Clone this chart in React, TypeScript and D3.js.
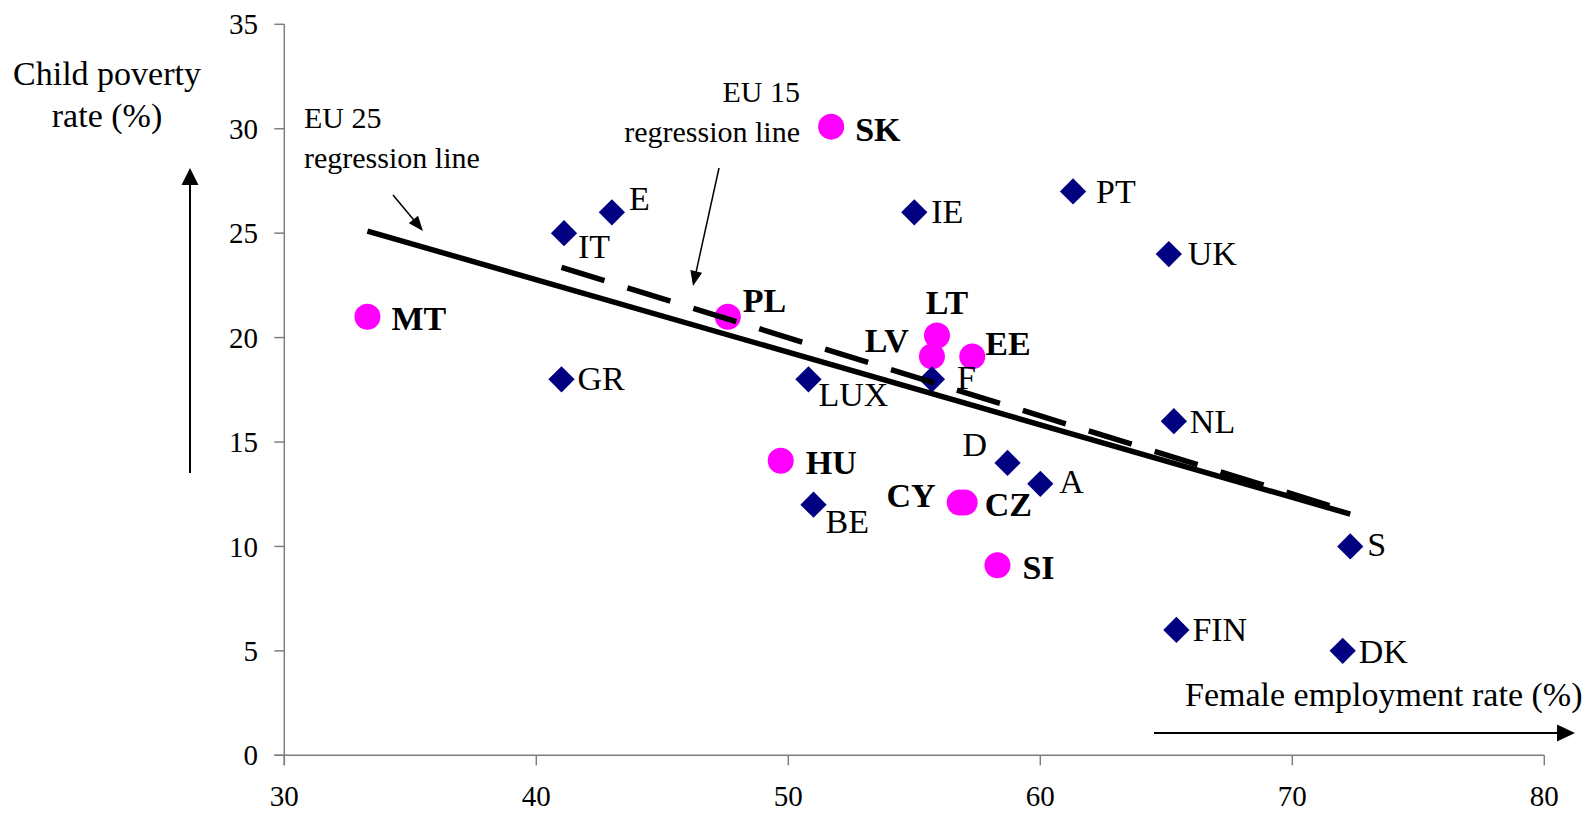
import React from "react";
import * as d3 from "d3";

// ---------- data ----------
const eu15Countries = ["E", "IT", "GR", "IE", "PT", "UK", "LUX", "F", "BE", "D", "A", "NL", "S", "FIN", "DK"];
const eu15Employment = [43.0, 41.1, 41.0, 55.0, 61.3, 65.1, 50.8, 55.7, 51.0, 58.7, 60.0, 65.3, 72.3, 65.4, 72.0];
const eu15ChildPoverty = [26, 25, 18, 26, 27, 24, 18, 18, 12, 14, 13, 16, 10, 6, 5];

const nmsCountries = ["MT", "PL", "SK", "LT", "LV", "EE", "HU", "CY", "CZ", "SI"];
const nmsEmployment = [33.3, 47.6, 51.7, 55.9, 55.7, 57.3, 49.7, 56.8, 57.0, 58.3];
const nmsChildPoverty = [21, 21, 30.1, 20.1, 19.1, 19.1, 14.1, 12.1, 12.1, 9.1];

const xTicks = [30, 40, 50, 60, 70, 80];
const yTicks = [0, 5, 10, 15, 20, 25, 30, 35];

// regression line end points (employment, poverty)
const eu25LineX = [33.3, 72.3];
const eu25LineY = [25.1, 11.55];
const eu15LineX = [41.0, 72.3];
const eu15LineY = [23.36, 11.65];

// ---------- layout (label offsets in px) ----------
const labelLayout: Record<string, [number, number, string]> = {
  E: [17, -2, "start"],
  IT: [14, 25, "start"],
  GR: [16, 11, "start"],
  IE: [17, 11, "start"],
  PT: [23, 12, "start"],
  UK: [19, 11, "start"],
  LUX: [10, 27, "start"],
  F: [25, 10, "start"],
  BE: [12, 28, "start"],
  D: [-45, -7, "start"],
  A: [19, 9, "start"],
  NL: [16, 12, "start"],
  S: [17, 10, "start"],
  FIN: [16, 11, "start"],
  DK: [16, 12, "start"],
  MT: [24, 13, "start"],
  PL: [15, -5, "start"],
  SK: [24, 14, "start"],
  LT: [10, -21, "middle"],
  LV: [-23, -4, "end"],
  EE: [13, -1, "start"],
  HU: [25, 13, "start"],
  CY: [-24, 4, "end"],
  CZ: [20, 13, "start"],
  SI: [25, 14, "start"],
};

const W = 1589;
const H = 814;
const FONT = "'Liberation Serif', 'Times New Roman', serif";

function arrowHead(x1: number, y1: number, x2: number, y2: number, len: number, wid: number) {
  const a = Math.atan2(y2 - y1, x2 - x1);
  const bx = x2 - len * Math.cos(a);
  const by = y2 - len * Math.sin(a);
  const px = -Math.sin(a) * (wid / 2);
  const py = Math.cos(a) * (wid / 2);
  return `${x2},${y2} ${bx + px},${by + py} ${bx - px},${by - py}`;
}

function Arrow({ x1, y1, x2, y2, len, wid, sw }: any) {
  const a = Math.atan2(y2 - y1, x2 - x1);
  const ex = x2 - (len - 2) * Math.cos(a);
  const ey = y2 - (len - 2) * Math.sin(a);
  return (
    <g>
      <line x1={x1} y1={y1} x2={ex} y2={ey} stroke="#000" strokeWidth={sw} />
      <polygon points={arrowHead(x1, y1, x2, y2, len, wid)} fill="#000" />
    </g>
  );
}

export default function App() {
  const x = d3.scaleLinear().domain([30, 80]).range([284.3, 1544.3]);
  const y = d3.scaleLinear().domain([0, 35]).range([755.3, 24.3]);

  const eu15 = eu15Countries.map((c, i) => ({ c, x: eu15Employment[i], y: eu15ChildPoverty[i] }));
  const nms = nmsCountries.map((c, i) => ({ c, x: nmsEmployment[i], y: nmsChildPoverty[i] }));

  const line = d3
    .line<[number, number]>()
    .x((d) => x(d[0]))
    .y((d) => y(d[1]));
  const eu25Path = line(eu25LineX.map((v, i) => [v, eu25LineY[i]] as [number, number]));
  const eu15Path = line(eu15LineX.map((v, i) => [v, eu15LineY[i]] as [number, number]));

  const axisColor = "#7f7f7f";
  const x0 = x(30);
  const y0 = y(0);
  const diamond = d3.symbol().type(d3.symbolDiamond2 || d3.symbolDiamond).size(440)();

  return (
    <svg
      width={W}
      height={H}
      style={{ position: "absolute", left: 0, top: 0, background: "#fff" }}
      fontFamily={FONT}
    >
      <rect x={0} y={0} width={W} height={H} fill="#fff" />

      {/* axes */}
      <line x1={x0} y1={y(35)} x2={x0} y2={y0 + 10} stroke={axisColor} strokeWidth={1.5} />
      <line x1={x0 - 10} y1={y0} x2={x(80)} y2={y0} stroke={axisColor} strokeWidth={1.5} />
      {yTicks.map((t) => (
        <g key={"yt" + t}>
          <line x1={x0 - 10} x2={x0} y1={y(t)} y2={y(t)} stroke={axisColor} strokeWidth={1.5} />
          <text x={258} y={y(t)} dy="0.35em" textAnchor="end" fontSize={29} fill="#000">
            {t}
          </text>
        </g>
      ))}
      {xTicks.map((t) => (
        <g key={"xt" + t}>
          <line x1={x(t)} x2={x(t)} y1={y0} y2={y0 + 10} stroke={axisColor} strokeWidth={1.5} />
          <text x={x(t)} y={806} textAnchor="middle" fontSize={29} fill="#000">
            {t}
          </text>
        </g>
      ))}

      {/* axis titles */}
      <text x={107} y={85} textAnchor="middle" fontSize={34}>Child poverty</text>
      <text x={107} y={127} textAnchor="middle" fontSize={34}>rate (%)</text>
      <Arrow x1={190} y1={473} x2={190} y2={168} len={17} wid={17} sw={2} />

      <text x={1185} y={706} fontSize={34}>Female employment rate (%)</text>
      <Arrow x1={1154} y1={733} x2={1575} y2={733} len={18} wid={17} sw={2} />

      {/* markers */}
      {nms.map((d) => (
        <circle key={"c" + d.c} cx={x(d.x)} cy={y(d.y)} r={13} fill="#ff00ff" />
      ))}
      {eu15.map((d) => (
        <path
          key={"d" + d.c}
          d={diamond as string}
          transform={`translate(${x(d.x)},${y(d.y)})`}
          fill="#000080"
        />
      ))}

      {/* regression lines */}
      <path d={eu25Path as string} stroke="#000" strokeWidth={5.5} fill="none" />
      <path d={eu15Path as string} stroke="#000" strokeWidth={5.5} fill="none" strokeDasharray="45 24" />

      {/* labels */}
      {eu15.map((d) => {
        const [dx, dy, anchor] = labelLayout[d.c];
        return (
          <text key={"l" + d.c} x={x(d.x) + dx} y={y(d.y) + dy} textAnchor={anchor as any} fontSize={34}>
            {d.c}
          </text>
        );
      })}
      {nms.map((d) => {
        const [dx, dy, anchor] = labelLayout[d.c];
        return (
          <text
            key={"l" + d.c}
            x={x(d.x) + dx}
            y={y(d.y) + dy}
            textAnchor={anchor as any}
            fontSize={34}
            fontWeight="bold"
          >
            {d.c}
          </text>
        );
      })}

      {/* annotations */}
      <text x={304} y={128} fontSize={30}>EU 25</text>
      <text x={304} y={168} fontSize={30}>regression line</text>
      <Arrow x1={393} y1={195} x2={423} y2={231} len={15} wid={12} sw={1.5} />

      <text x={800} y={102} fontSize={30} textAnchor="end">EU 15</text>
      <text x={800} y={142} fontSize={30} textAnchor="end">regression line</text>
      <Arrow x1={719} y1={168} x2={693} y2={286} len={15} wid={12} sw={1.5} />
    </svg>
  );
}
